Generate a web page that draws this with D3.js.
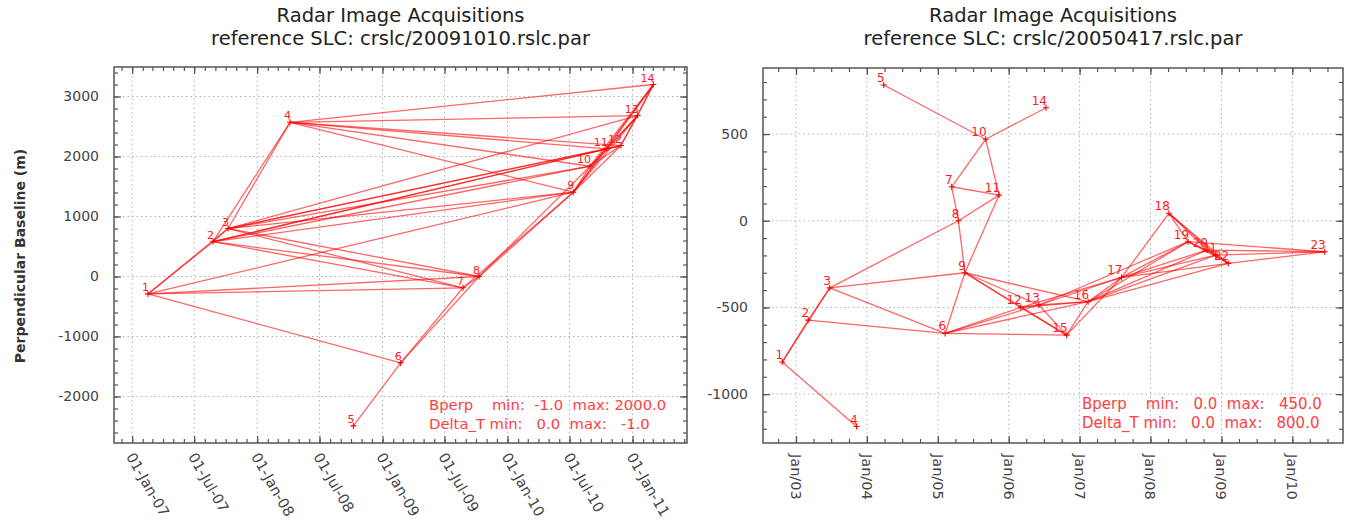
<!DOCTYPE html>
<html>
<head>
<meta charset="utf-8">
<script src="https://d3js.org/d3.v7.min.js"></script>
<style>
body { margin: 0; background: #fff; }
svg { font-family: "DejaVu Sans", sans-serif; }
.grid line { stroke: #b0b0b0; stroke-dasharray: 1.5,3; }
.frame { fill: none; stroke: #555; stroke-width: 1.5; }
.tick line { stroke: #555; stroke-width: 1.2; }
.domain { display: none; }
.edge { stroke: #ff0000; stroke-opacity: 0.6; stroke-width: 1.3; }
.node { stroke: #ff0000; stroke-width: 1.1; fill: none; }
.nlabel { fill: #ff1a1a; text-anchor: end; }
.legend { fill: #ff4040; white-space: pre; }
.title { font-size: 19.5px; fill: #222; text-anchor: middle; }
.ticklab { font-size: 14px; fill: #444; }
</style>
</head>
<body>
<script>
const parse = d3.timeParse("%Y-%m-%d");

// left plot: reference SLC 20091010
const leftTitle = ["Radar Image Acquisitions", "reference SLC: crslc/20091010.rslc.par"];
const leftDates = ["2007-02-16","2007-08-25","2007-10-08","2008-04-06","2008-10-08","2009-02-23","2009-08-24",
                   "2009-10-10","2010-07-12","2010-08-30","2010-10-18","2010-11-28","2011-01-16","2011-03-03"];
const leftBperp = [-290, 580, 800, 2570, -2490, -1440, -188, 0, 1405, 1838, 2128, 2183, 2683, 3200];
const leftEdges = [[1,2],[1,3],[1,6],[1,7],[1,8],[1,9],
  [2,3],[2,4],[2,7],[2,8],[2,9],[2,10],[2,11],[2,12],
  [3,4],[3,7],[3,8],[3,9],[3,10],[3,11],[3,12],[3,13],
  [4,9],[4,10],[4,11],[4,12],[4,13],[4,14],
  [5,6],[6,7],[6,8],[7,8],[7,9],[8,9],[8,10],
  [9,10],[9,11],[9,12],[9,13],[9,14],[10,11],[10,12],[10,13],[10,14],
  [11,12],[11,13],[11,14],[12,13],[12,14],[13,14]];
const leftXTicks = ["2007-01-01","2007-07-01","2008-01-01","2008-07-01","2009-01-01",
                    "2009-07-01","2010-01-01","2010-07-01","2011-01-01"];
const leftYTicks = [-2000, -1000, 0, 1000, 2000, 3000];
const leftLegend = ["Bperp    min:  -1.0  max: 2000.0", "Delta_T min:   0.0  max:   -1.0"];

// right plot: reference SLC 20050417
const rightTitle = ["Radar Image Acquisitions", "reference SLC: crslc/20050417.rslc.par"];
const rightDates = ["2002-10-22","2003-03-05","2003-06-24","2003-11-09","2004-03-28","2005-02-07","2005-03-13",
                    "2005-04-17","2005-05-20","2005-09-04","2005-11-12","2006-03-04","2006-06-05","2006-07-12",
                    "2006-10-26","2007-02-14","2007-08-05","2008-04-05","2008-07-13","2008-10-18","2008-12-03",
                    "2009-02-05","2010-06-17"];
const rightBperp = [-815, -573, -387, -1187, 783, -650, 196, 0, -300, 470, 148, -500, -486, 652,
                    -660, -467, -327, 43, -121, -169, -198, -246, -179];
const rightEdges = [[1,2],[1,3],[1,4],[2,3],[2,6],[3,6],[3,8],[3,9],[5,10],
  [6,9],[6,12],[6,13],[6,15],[6,16],[7,8],[7,10],[7,11],[8,9],[8,11],
  [9,11],[9,12],[9,13],[9,15],[9,16],[10,11],[10,14],
  [12,13],[12,15],[12,16],[12,17],[13,15],[13,16],[13,17],[13,19],[15,16],[15,17],
  [16,17],[16,19],[16,20],[16,21],[16,22],[17,18],[17,19],[17,20],[17,21],[17,22],
  [18,19],[18,20],[18,21],[18,22],[19,20],[19,21],[19,22],[19,23],
  [20,21],[20,22],[20,23],[21,22],[21,23],[22,23]];
const rightXTicks = ["2003-01-01","2004-01-01","2005-01-01","2006-01-01","2007-01-01",
                     "2008-01-01","2009-01-01","2010-01-01"];
const rightYTicks = [-1000, -500, 0, 500];
const rightLegend = ["Bperp    min:   0.0  max:   450.0", "Delta_T min:   0.0  max:   800.0"];

const svg = d3.select("body").append("svg").attr("width", 1352).attr("height", 522);

function panel(p) {
  const g = svg.append("g");
  const x = d3.scaleTime().domain(p.xDomain.map(parse)).range([p.left, p.right]);
  const y = d3.scaleLinear().domain(p.yDomain).range([p.bottom, p.top]);
  const xt = p.xTicks.map(parse);
  const xm = p.minorX.range(x.domain()[0], x.domain()[1]);
  const ym = d3.range(Math.ceil(p.yDomain[0] / p.minorY) * p.minorY, p.yDomain[1], p.minorY);

  // grid
  g.append("g").attr("class", "grid").selectAll("line").data(xt).join("line")
    .attr("x1", d => x(d)).attr("x2", d => x(d)).attr("y1", p.top).attr("y2", p.bottom);
  g.append("g").attr("class", "grid").selectAll("line").data(p.yTicks).join("line")
    .attr("x1", p.left).attr("x2", p.right).attr("y1", d => y(d)).attr("y2", d => y(d));

  // inward ticks on all sides
  const ax = (axis, tr) => g.append("g").attr("transform", tr).call(axis);
  ax(d3.axisBottom(x).tickValues(xt).tickSize(-7).tickFormat(""), `translate(0,${p.bottom})`);
  ax(d3.axisBottom(x).tickValues(xm).tickSize(-4).tickFormat(""), `translate(0,${p.bottom})`);
  ax(d3.axisTop(x).tickValues(xt).tickSize(-7).tickFormat(""), `translate(0,${p.top})`);
  ax(d3.axisTop(x).tickValues(xm).tickSize(-4).tickFormat(""), `translate(0,${p.top})`);
  ax(d3.axisLeft(y).tickValues(p.yTicks).tickSize(-7).tickFormat(""), `translate(${p.left},0)`);
  ax(d3.axisLeft(y).tickValues(ym).tickSize(-4).tickFormat(""), `translate(${p.left},0)`);
  ax(d3.axisRight(y).tickValues(p.yTicks).tickSize(-7).tickFormat(""), `translate(${p.right},0)`);
  ax(d3.axisRight(y).tickValues(ym).tickSize(-4).tickFormat(""), `translate(${p.right},0)`);

  g.append("rect").attr("class", "frame")
    .attr("x", p.left).attr("y", p.top).attr("width", p.right - p.left).attr("height", p.bottom - p.top);

  // tick labels
  g.selectAll(".ylab").data(p.yTicks).join("text").attr("class", "ticklab")
    .attr("x", p.left - 15).attr("y", d => y(d)).attr("dy", "0.35em")
    .style("text-anchor", "end").text(d => d);
  const fmt = d3.timeFormat(p.xFormat);
  g.selectAll(".xlab").data(xt).join("text").attr("class", "ticklab")
    .style("font-size", p.xLabFont + "px")
    .attr("transform", d => `translate(${x(d) + p.xLabDx},${p.bottom + 11}) rotate(${p.xRot})`)
    .attr("dy", "0.35em").style("text-anchor", "start").text(d => fmt(d));

  // titles
  g.selectAll(".title").data(p.title).join("text").attr("class", "title")
    .attr("x", (p.left + p.right) / 2).attr("y", (d, i) => 22 + i * 23).text(d => d);

  // network
  const nodes = p.dates.map((d, i) => ({ n: i + 1, x: x(parse(d)), y: y(p.bperp[i]) }));
  g.append("g").selectAll("line").data(p.edges).join("line").attr("class", "edge")
    .attr("x1", d => nodes[d[0] - 1].x).attr("y1", d => nodes[d[0] - 1].y)
    .attr("x2", d => nodes[d[1] - 1].x).attr("y2", d => nodes[d[1] - 1].y);
  g.append("g").selectAll("path").data(nodes).join("path").attr("class", "node")
    .attr("d", d => `M${d.x - 3},${d.y}H${d.x + 3}M${d.x},${d.y - 3}V${d.y + 3}`);
  g.append("g").selectAll("text").data(nodes).join("text").attr("class", "nlabel")
    .style("font-size", p.nodeFont + "px")
    .attr("x", d => d.x + 1).attr("y", d => d.y - 3).text(d => d.n);

  // legend
  g.selectAll(".legend").data(p.legend).join("text").attr("class", "legend")
    .style("font-size", p.legFont + "px")
    .attr("xml:space", "preserve")
    .attr("x", p.legX).attr("y", (d, i) => p.legY + i * 19).text(d => d);
}

panel({
  left: 114, right: 687, top: 67, bottom: 443,
  xDomain: ["2006-11-09", "2011-06-09"], yDomain: [-2775, 3492],
  xTicks: leftXTicks, yTicks: leftYTicks, minorX: d3.timeMonth, minorY: 200,
  xFormat: "%d-%b-%y", xRot: 60, xLabDx: -2, xLabFont: 14.5,
  title: leftTitle, dates: leftDates, bperp: leftBperp, edges: leftEdges, nodeFont: 11,
  legend: leftLegend, legX: 429, legY: 410, legFont: 14.8
});

panel({
  left: 763, right: 1343, top: 68, bottom: 443,
  xDomain: ["2002-07-15", "2010-09-19"], yDomain: [-1282, 881],
  xTicks: rightXTicks, yTicks: rightYTicks, minorX: d3.timeMonth.every(3), minorY: 100,
  xFormat: "%b/%y", xRot: 90, xLabDx: 0, xLabFont: 14.5,
  title: rightTitle, dates: rightDates, bperp: rightBperp, edges: rightEdges, nodeFont: 12,
  legend: rightLegend, legX: 1082, legY: 409, legFont: 15
});

// y axis title (left plot only)
svg.append("text")
  .attr("transform", "translate(25,256) rotate(-90)")
  .style("text-anchor", "middle").style("font-size", "14px").style("font-weight", "bold").style("fill", "#333")
  .text("Perpendicular Baseline (m)");
</script>
</body>
</html>
